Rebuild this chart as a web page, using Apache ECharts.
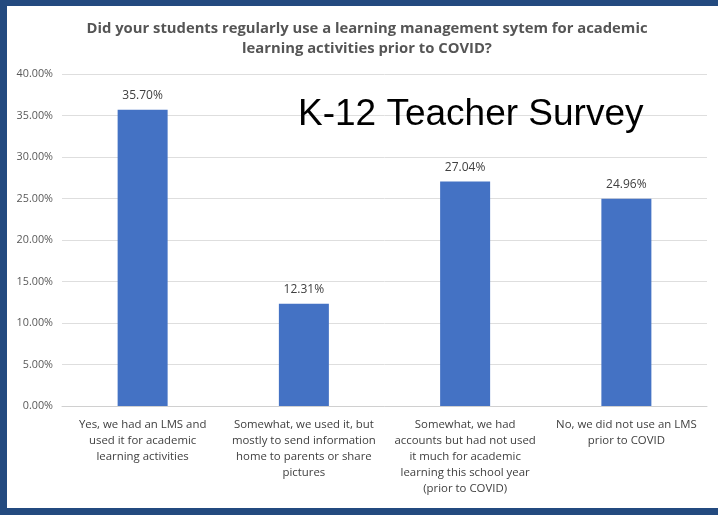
<!DOCTYPE html>
<html>
<head>
<meta charset="utf-8">
<title>LMS use prior to COVID</title>
<script src="https://cdn.jsdelivr.net/npm/echarts@6/dist/echarts.min.js"></script>
<style>
  html, body { margin: 0; padding: 0; background: #ffffff; }
  #chart { width: 718px; height: 515px; }
</style>
</head>
<body>
<div id="chart"></div>
<script>
// Survey answers (category labels, wrapped as printed under the bars)
const categories = [
  'Yes, we had an LMS and\nused it for academic\nlearning activities',
  'Somewhat, we used it, but\nmostly to send information\nhome to parents or share\npictures',
  'Somewhat, we had\naccounts but had not used\nit much for academic\nlearning this school year\n(prior to COVID)',
  'No, we did not use an LMS\nprior to COVID'
];
// Share of respondents, in percent
const shares = [35.70, 12.31, 27.04, 24.96];
// Value axis ticks, in percent
const yTicks = [0, 5, 10, 15, 20, 25, 30, 35, 40];

const chartTitle = 'Did your students regularly use a learning management sytem for academic\nlearning activities prior to COVID?';
const overlayText = 'K-12 Teacher Survey';

const frameColor = '#234a7f';
const labelFont = '"Open Sans", "Noto Sans", sans-serif';

const chart = echarts.init(document.getElementById('chart'), null, { renderer: 'canvas' });

chart.setOption({
  backgroundColor: '#ffffff',
  animation: false,
  title: {
    text: chartTitle,
    left: 362,
    top: 14,
    textAlign: 'center',
    textStyle: {
      fontFamily: labelFont,
      fontWeight: 'bold',
      fontSize: 14.8,
      lineHeight: 20,
      color: '#555555'
    }
  },
  grid: { left: 62, right: 11, top: 74, bottom: 109, containLabel: false },
  xAxis: {
    type: 'category',
    data: categories,
    axisTick: { show: false },
    axisLine: { lineStyle: { color: '#d0d0d0', width: 1 } },
    axisLabel: {
      interval: 0,
      margin: 11,
      fontFamily: labelFont,
      fontSize: 11.4,
      lineHeight: 16,
      color: '#404040',
      align: 'center'
    }
  },
  yAxis: {
    type: 'value',
    min: yTicks[0],
    max: yTicks[yTicks.length - 1],
    interval: yTicks[1] - yTicks[0],
    axisLine: { show: false },
    axisTick: { show: false },
    splitLine: { lineStyle: { color: '#dedede', width: 1 } },
    axisLabel: {
      margin: 9,
      fontFamily: labelFont,
      fontSize: 10.8,
      color: '#595959',
      formatter: v => v.toFixed(2) + '%'
    }
  },
  series: [{
    type: 'bar',
    data: shares,
    barWidth: 50,
    itemStyle: { color: '#4472c4' },
    label: {
      show: true,
      position: 'top',
      distance: 8,
      fontFamily: labelFont,
      fontSize: 12,
      color: '#404040',
      formatter: p => p.value.toFixed(2) + '%'
    }
  }],
  graphic: [
    // slide frame: top, left and bottom bands
    { type: 'rect', left: 0, top: 0, shape: { width: 718, height: 6 }, style: { fill: frameColor }, z: 100 },
    { type: 'rect', left: 0, top: 0, shape: { width: 7, height: 515 }, style: { fill: frameColor }, z: 100 },
    { type: 'rect', left: 0, top: 508, shape: { width: 718, height: 7 }, style: { fill: frameColor }, z: 100 },
    {
      type: 'text',
      x: 298,
      y: 115,
      style: {
        text: overlayText,
        fontFamily: '"Liberation Sans", Arial, sans-serif',
        fontSize: 37,
        fill: '#000000',
        textVerticalAlign: 'middle',
        verticalAlign: 'middle'
      },
      z: 50
    }
  ]
});
</script>
</body>
</html>
